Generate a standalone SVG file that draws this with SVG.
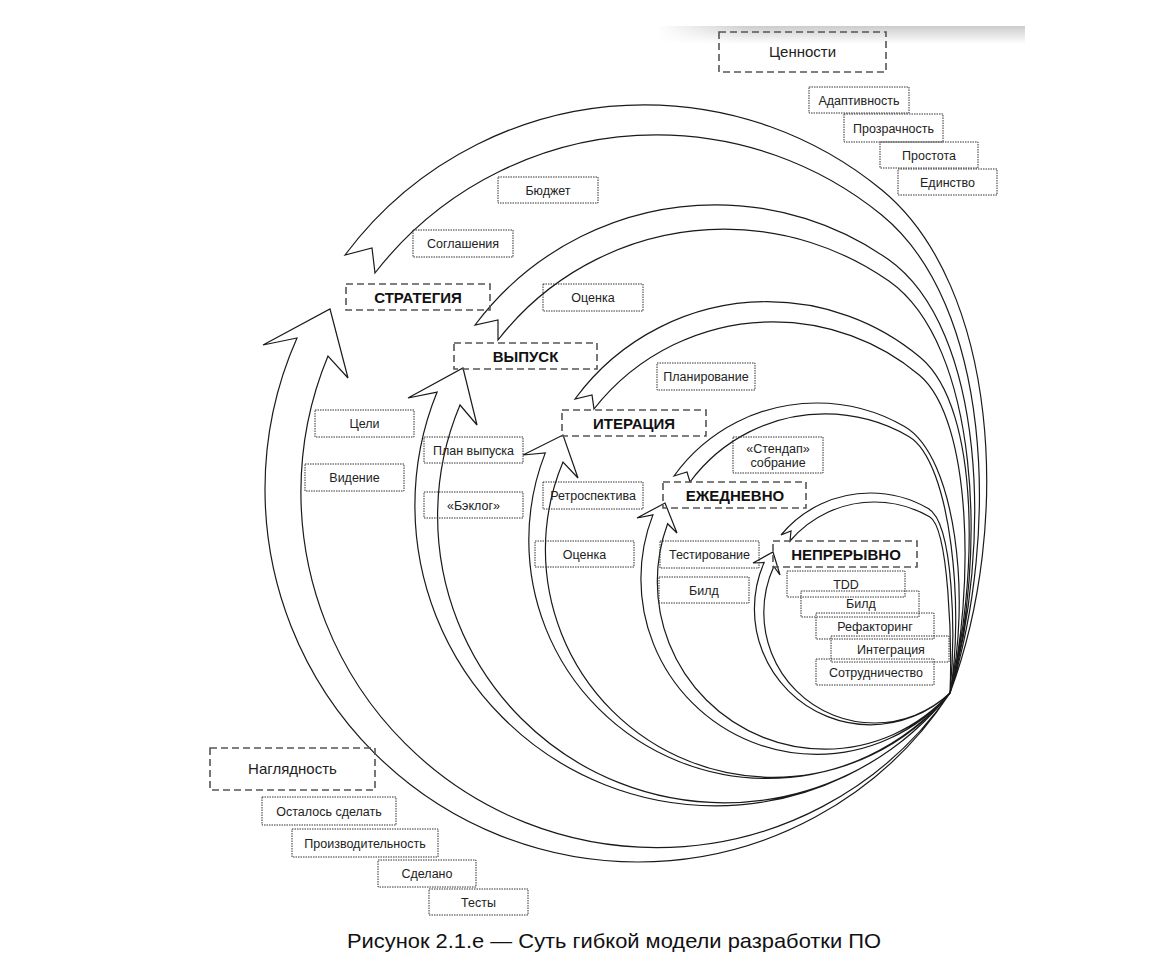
<svg xmlns="http://www.w3.org/2000/svg" width="1169" height="972" viewBox="0 0 1169 972">
<defs>
<linearGradient id="shadeV" x1="0" y1="0" x2="0" y2="1"><stop offset="0" stop-color="#cccccc"/><stop offset="1" stop-color="#ffffff"/></linearGradient>
<linearGradient id="fadeH" x1="0" y1="0" x2="1" y2="0"><stop offset="0" stop-color="#000"/><stop offset="0.25" stop-color="#fff"/><stop offset="1" stop-color="#fff"/></linearGradient>
<mask id="fade"><rect x="655" y="20" width="375" height="30" fill="url(#fadeH)"/></mask>
<style>
.rib{fill:none;stroke:#1a1a1a;stroke-width:1.2;stroke-linejoin:miter}
.dash{fill:none;stroke:#555;stroke-width:1.6;stroke-dasharray:7 4}
.dot{fill:none;stroke:#333;stroke-width:1;stroke-dasharray:1.5 1}
.t{font-family:"Liberation Sans",Arial,sans-serif;font-size:12.5px;fill:#222;text-anchor:middle}
.b{font-family:"Liberation Sans",Arial,sans-serif;font-size:15px;font-weight:bold;fill:#111;text-anchor:middle}
.h{font-family:"Liberation Sans",Arial,sans-serif;font-size:15px;fill:#222;text-anchor:middle}
.cap{font-family:"Liberation Sans",Arial,sans-serif;font-size:21px;fill:#111;text-anchor:middle}
</style>
</defs>
<rect width="1169" height="972" fill="#fff"/>
<rect x="660" y="26" width="365" height="18" fill="url(#shadeV)" mask="url(#fade)"/>

<g id="connectors">
<!-- Level 1: strategy -->
<path class="rib" d="M950,693 C1013,524.3 997.7,285.4 881.9,190 A373.6,373.6 0 0 0 644.4,104.8 A373.6,373.6 0 0 0 345,255 L372,248 L375,273 A356.3,356.3 0 0 1 656.6,134.9 A356.3,356.3 0 0 1 881.7,215 C990.2,303.5 1001,530.8 950,693"/>
<path class="rib" d="M950,693 A372.8,372.8 0 0 1 637.8,862 A372.8,372.8 0 0 1 265,489.2 A372.8,372.8 0 0 1 297,338 L263,345 L330,309 L348,378 L328,356 A355.6,355.6 0 0 0 300.9,492 A355.6,355.6 0 0 0 656.5,847.6 A355.6,355.6 0 0 0 950,693"/>
<!-- Level 2: release -->
<path class="rib" d="M950,693 C992,549 986.1,327.9 887.8,259.1 A300.5,300.5 0 0 0 715.4,204.8 A300.5,300.5 0 0 0 475,325 L498,320 L498,340 A286.8,286.8 0 0 1 724.4,229.2 A286.8,286.8 0 0 1 888.9,281.1 C979,344.2 987.8,558.2 950,693"/>
<path class="rib" d="M950,693 A300.5,300.5 0 0 1 715.4,805.8 A300.5,300.5 0 0 1 414.9,505.3 A300.5,300.5 0 0 1 437.1,392.1 L408,398 L463,368 L477,425 L460,405 A286.8,286.8 0 0 0 437.6,516 A286.8,286.8 0 0 0 724.4,802.8 A286.8,286.8 0 0 0 950,693"/>
<!-- Level 3: iteration -->
<path class="rib" d="M950,693 C977.5,586.5 981.7,408.9 920.4,357.5 A238.4,238.4 0 0 0 767.2,301.7 A238.4,238.4 0 0 0 575,399 L592,395 L594,409 A227.7,227.7 0 0 1 773.1,321.9 A227.7,227.7 0 0 1 919.5,375.2 C973.1,420.2 974,596 950,693"/>
<path class="rib" d="M950,693 A238.4,238.4 0 0 1 767.2,778.5 A238.4,238.4 0 0 1 528.8,540.1 A238.4,238.4 0 0 1 545.3,452.9 L523,455 L563,435 L578,478 L563,462 A227.7,227.7 0 0 0 545.4,549.6 A227.7,227.7 0 0 0 773.1,777.3 A227.7,227.7 0 0 0 950,693"/>
<!-- Level 4: daily -->
<path class="rib" d="M950,693 C970.9,600.3 956.5,456.5 904.5,426.5 A175.7,175.7 0 0 0 816.6,403 A175.7,175.7 0 0 0 674,476 L687,472 L690,482 A167.6,167.6 0 0 1 824.9,413.9 A167.6,167.6 0 0 1 908.7,436.4 C952,461.4 964.4,614.3 950,693"/>
<path class="rib" d="M950,693 A175.7,175.7 0 0 1 816.6,754.4 A175.7,175.7 0 0 1 640.9,578.7 A175.7,175.7 0 0 1 652.9,514.9 L637,518 L665,503 L677,533 L667.6,523.7 A167.6,167.6 0 0 0 657.3,581.5 A167.6,167.6 0 0 0 824.9,749.1 A167.6,167.6 0 0 0 950,693"/>
<!-- Level 5: continuous -->
<path class="rib" d="M950,693 C955.5,638.3 954.3,523.5 928.3,508.5 A115.9,115.9 0 0 0 870.3,493 A115.9,115.9 0 0 0 781,535 L791,531 L790,541 A110.5,110.5 0 0 1 874.3,502 A110.5,110.5 0 0 1 929.55,516.8 C949,528 952,645 950,693"/>
<path class="rib" d="M950,693 A115.9,115.9 0 0 1 870.3,724.8 A115.9,115.9 0 0 1 754.4,608.9 A115.9,115.9 0 0 1 764.1,562.5 L753,563 L773,552 L780,575 L773.8,566.5 A110.5,110.5 0 0 0 763.8,612.5 A110.5,110.5 0 0 0 874.3,723 A110.5,110.5 0 0 0 950,693"/>
</g>

<g id="values"><rect class="dash" x="719" y="32" width="167" height="40"/><text class="h" x="802.5" y="57">Ценности</text></g>
<g id="adaptivity"><rect class="dot" x="809" y="87" width="100" height="26"/><text class="t" x="859" y="104.5">Адаптивность</text></g>
<g id="transparency"><rect class="dot" x="844" y="114" width="99" height="28"/><text class="t" x="893.5" y="132.5">Прозрачность</text></g>
<g id="simplicity"><rect class="dot" x="880" y="142" width="98" height="26"/><text class="t" x="929" y="159.5">Простота</text></g>
<g id="unity"><rect class="dot" x="898" y="169" width="99" height="26"/><text class="t" x="947.5" y="186.5">Единство</text></g>

<g id="budget"><rect class="dot" x="498" y="177" width="100" height="26"/><text class="t" x="548" y="194.5">Бюджет</text></g>
<g id="agreements"><rect class="dot" x="413" y="230" width="100" height="27"/><text class="t" x="463" y="248">Соглашения</text></g>
<g id="strategy"><rect class="dash" x="346" y="284" width="144" height="26"/><text class="b" x="418" y="302.5">СТРАТЕГИЯ</text></g>
<g id="estimate1"><rect class="dot" x="543" y="284" width="100" height="27"/><text class="t" x="593" y="302">Оценка</text></g>
<g id="release"><rect class="dash" x="454" y="343" width="143" height="26"/><text class="b" x="525.5" y="361.5">ВЫПУСК</text></g>
<g id="planning"><rect class="dot" x="657" y="363" width="98" height="27"/><text class="t" x="706" y="381">Планирование</text></g>
<g id="iteration"><rect class="dash" x="562" y="410" width="144" height="26"/><text class="b" x="634" y="428.5">ИТЕРАЦИЯ</text></g>
<g id="goals"><rect class="dot" x="315" y="410" width="99" height="27"/><text class="t" x="364.5" y="428">Цели</text></g>
<g id="vision"><rect class="dot" x="305" y="464" width="99" height="27"/><text class="t" x="354.5" y="482">Видение</text></g>
<g id="releaseplan"><rect class="dot" x="424" y="437" width="99" height="26"/><text class="t" x="473.5" y="454.5">План выпуска</text></g>
<g id="backlog"><rect class="dot" x="424" y="492" width="99" height="26"/><text class="t" x="473.5" y="509.5">«Бэклог»</text></g>
<g id="retro"><rect class="dot" x="543" y="482" width="100" height="27"/><text class="t" x="593" y="500">Ретроспектива</text></g>
<g id="estimate2"><rect class="dot" x="535" y="541" width="99" height="26"/><text class="t" x="584.5" y="558.5">Оценка</text></g>
<g id="standup"><rect class="dot" x="733" y="437" width="90" height="36"/><text class="t" x="778" y="452.5">«Стендап»</text><text class="t" x="778" y="467">собрание</text></g>
<g id="daily"><rect class="dash" x="663" y="482" width="143" height="26"/><text class="b" x="735" y="500.5">ЕЖЕДНЕВНО</text></g>
<g id="testing"><rect class="dot" x="660" y="541" width="99" height="27"/><text class="t" x="709.5" y="559">Тестирование</text></g>
<g id="build1"><rect class="dot" x="659" y="577" width="90" height="26"/><text class="t" x="704" y="594.5">Билд</text></g>
<g id="continuous"><rect class="dash" x="773" y="541" width="144" height="26"/><text class="b" x="846" y="559.5">НЕПРЕРЫВНО</text></g>
<g id="tdd"><rect class="dot" x="787" y="571" width="118" height="26"/><text class="t" x="846" y="588.5">TDD</text></g>
<g id="build2"><rect class="dot" x="801" y="591" width="118" height="26"/><text class="t" x="861" y="608">Билд</text></g>
<g id="refactoring"><rect class="dot" x="816" y="613" width="118" height="26"/><text class="t" x="875" y="631">Рефакторинг</text></g>
<g id="integration"><rect class="dot" x="831" y="636" width="118" height="26"/><text class="t" x="891" y="653.5">Интеграция</text></g>
<g id="collaboration"><rect class="dot" x="816" y="659" width="118" height="26"/><text class="t" x="876" y="677">Сотрудничество</text></g>

<g id="visibility"><rect class="dash" x="210" y="748" width="165" height="42"/><text class="h" x="292.5" y="774">Наглядность</text></g>
<g id="todo"><rect class="dot" x="262" y="797" width="134" height="28"/><text class="t" x="329" y="815.5">Осталось сделать</text></g>
<g id="velocity"><rect class="dot" x="292" y="829" width="146" height="28"/><text class="t" x="365" y="847.5">Производительность</text></g>
<g id="done"><rect class="dot" x="378" y="860" width="98" height="27"/><text class="t" x="427" y="878">Сделано</text></g>
<g id="tests"><rect class="dot" x="429" y="889" width="99" height="26"/><text class="t" x="478.5" y="906.5">Тесты</text></g>

<text class="cap" x="614" y="948" textLength="534" lengthAdjust="spacingAndGlyphs">Рисунок 2.1.е — Суть гибкой модели разработки ПО</text>
</svg>
